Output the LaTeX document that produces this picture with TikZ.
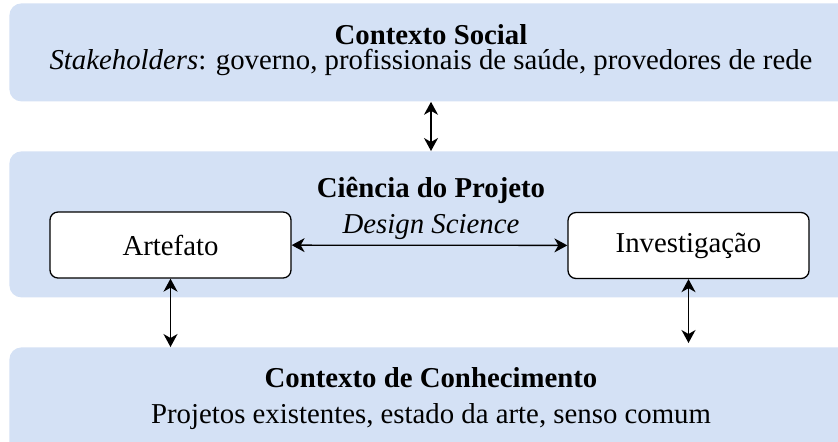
\documentclass[tikz,border=0pt]{standalone}
\usepackage{fontspec}
\setmainfont{Liberation Serif}
\usetikzlibrary{arrows.meta}
\definecolor{bandblue}{HTML}{D4E1F5}

\begin{document}
\fontsize{14.4}{17}\selectfont
\begin{tikzpicture}[x=0.5pt,y=-0.5pt,
  band/.style={fill=bandblue, rounded corners=6pt, anchor=north west, minimum width=440pt, inner sep=0pt},
  line/.style={anchor=base, inner sep=1pt},
  stage/.style={draw, fill=white, line width=0.65pt, rounded corners=4pt, minimum width=120.5pt, minimum height=33pt},
  link/.style={{Stealth[length=6.5pt,width=7pt,inset=2pt]}-{Stealth[length=6.5pt,width=7pt,inset=2pt]}, line width=0.65pt}]
  \useasboundingbox (0,0) rectangle (838,441);
  \clip (0,0) rectangle (838,441);
  \node[band, minimum height=49pt] (social)  at (9,  3) {};
  \node[band, minimum height=73pt] (science) at (9,151) {};
  \node[band, minimum height=60pt] (know)    at (9,347) {};
  \node[line, font=\bfseries] (socialtitle) at (431, 44) {Contexto Social};
  \node[line] (socialtext) at (431, 69) {\textit{Stakeholders}: governo, profissionais de saúde, provedores de rede};
  \node[line, font=\bfseries] (scititle) at (431,197) {Ciência do Projeto};
  \node[line, font=\itshape] (scisub) at (431,233) {Design Science};
  \node[stage] (art) at (170.5,245) {Artefato};
  \node[stage] (inv) at (688.5,245.5) {Investigação};
  \node[line, font=\bfseries] (knowtitle) at (431,387) {Contexto de Conhecimento};
  \node[line] (knowtext) at (431,423) {Projetos existentes, estado da arte, senso comum};
  \draw[link] (social.south -| scititle) -- (science.north -| scititle);
  \draw[link] (art) -- (inv);
  \draw[link] (art.south) -- (art.south |- know.north);
  \draw[link, shorten >=2pt] (inv.south) -- (inv.south |- know.north);
\end{tikzpicture}
\end{document}
